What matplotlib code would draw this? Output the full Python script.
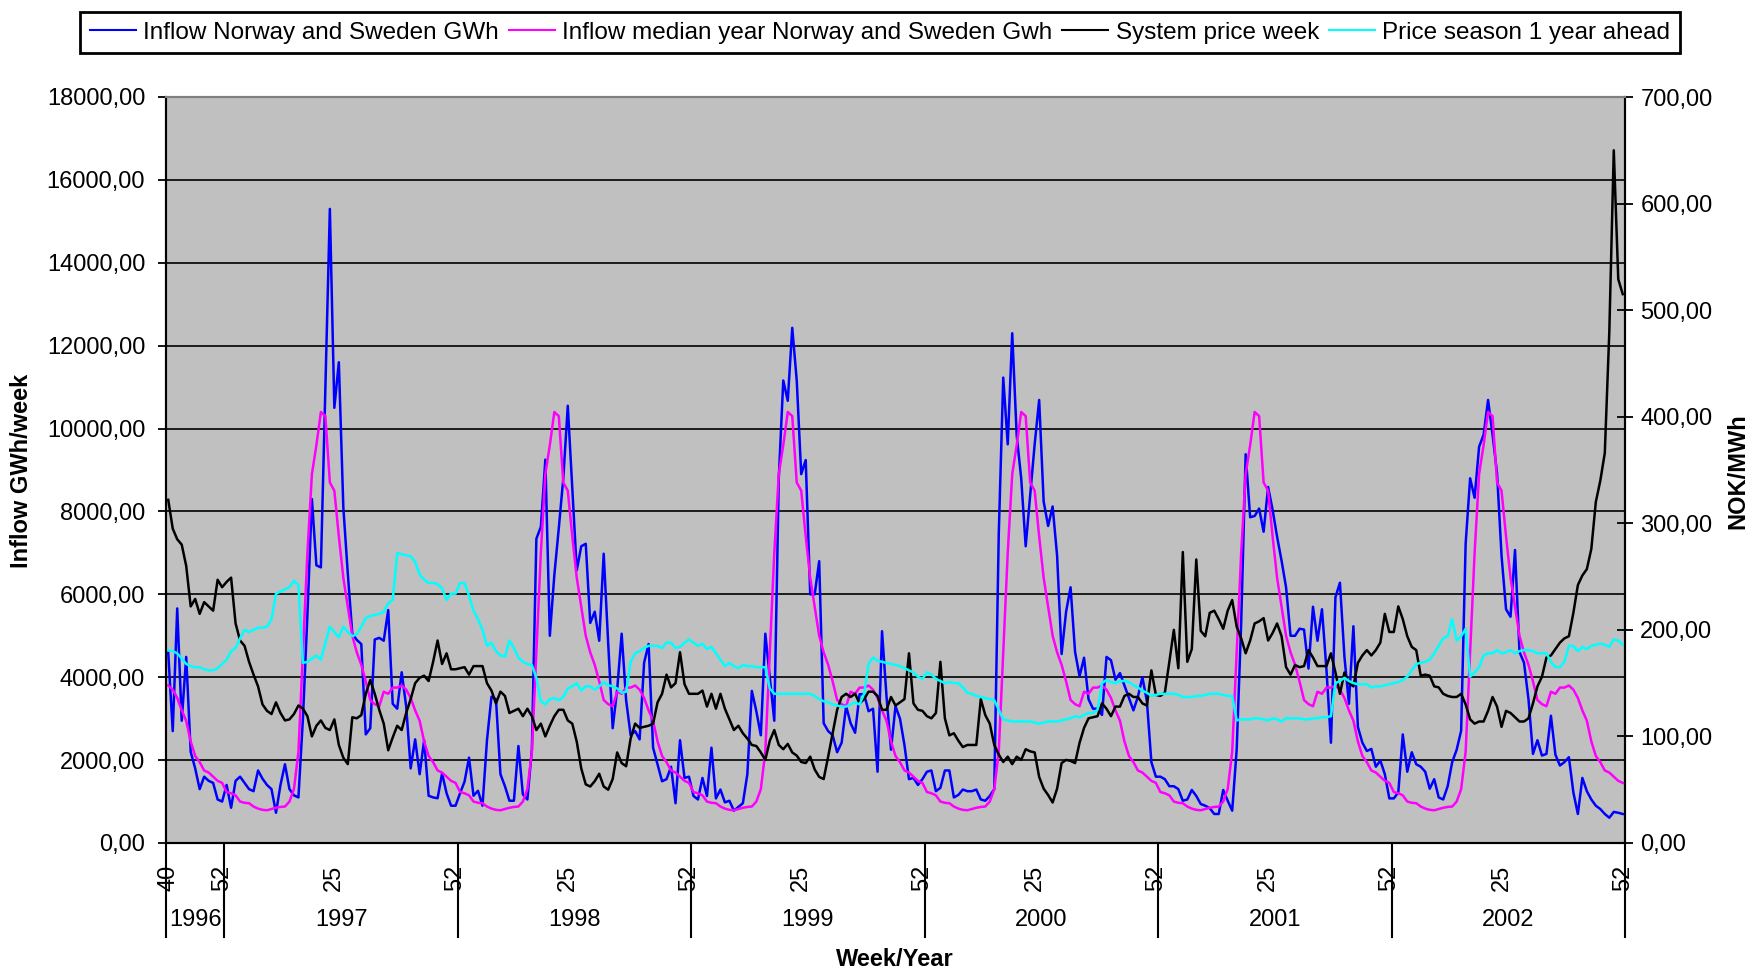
import matplotlib
matplotlib.use('agg')
import matplotlib.pyplot as plt
import matplotlib.transforms as mtransforms
from matplotlib.ticker import FuncFormatter, MultipleLocator
import numpy as np

plt.rcParams['font.family'] = ['Liberation Sans', 'DejaVu Sans']

# weeks shown: 1996 w40 .. 2002 w52
years = ['1996', '1997', '1998', '1999', '2000', '2001', '2002']
week_no = list(range(40, 53)) + list(range(1, 53)) * 6

# inflow Norway and Sweden, GWh/week
inflow = [
    4590, 2700, 5660, 2950, 4490, 2200, 1800, 1300, 1600, 1500, 1450, 1050, 1000,
    1400, 850, 1500, 1600, 1450, 1300, 1250, 1750, 1550, 1400, 1300, 730, 1400, 1900, 1300, 1150, 1100,
    3000, 5500, 8300, 6700, 6650, 11000, 15300, 10500, 11600, 8100, 6500, 5050, 4900, 4800, 2620, 2770,
    4910, 4950, 4880, 5620, 3360, 3240, 4120,
    3300, 1800, 2500, 1660, 2480, 1140, 1100, 1080, 1680, 1200, 900, 900, 1200, 1480, 2060, 1140, 1260,
    900, 2480, 3530, 3470, 1660, 1370, 1020, 1020, 2340, 1170, 1050, 2250,
    7340, 7630, 9250, 5000, 6460, 7600, 8800, 10550, 8560, 6580, 7160, 7220, 5310, 5580, 4880, 6980,
    4820, 2770, 3700, 5050, 3440, 2600,
    2700, 2500, 4350, 4800, 2300, 1900, 1490, 1540, 1840, 960, 2480, 1570, 1600, 1135, 1050, 1570, 1135,
    2300, 1076, 1290, 980, 1020, 780, 870, 960, 1660, 3670, 3180, 2600, 5050, 4000, 2950, 8800, 11160,
    10670, 12430, 11160, 8900, 9240, 6000, 6000, 6800, 2890, 2700, 2600, 2190, 2420, 3300, 2890, 2660,
    3590, 3590, 3180, 3240, 1720, 5110, 3530,
    2250, 3300, 3000, 2360, 1540, 1570, 1400, 1540, 1720, 1750, 1250, 1330, 1750, 1750, 1100, 1160,
    1290, 1250, 1250, 1290, 1050, 1020, 1135, 1300, 7450, 11230, 9620, 12300, 9830, 8800, 7160, 8400,
    9620, 10690, 8240, 7650, 8120, 6930, 4560, 5580, 6170, 4610, 4020, 4470, 3470, 3240, 3240, 3090,
    4490, 4410, 3940, 4100, 3800, 3500,
    3200, 3530, 4000, 3420, 1950, 1600, 1600, 1540, 1370, 1370, 1300, 1020, 1050, 1280, 1135, 940, 900,
    840, 700, 700, 1280, 1020, 780, 2250, 5300, 9380, 7860, 7890, 8070, 7510, 8590, 8040, 7390, 6810,
    6170, 5000, 5000, 5170, 5150, 4210, 5700, 4880, 5640, 4180, 2420, 5930, 6280, 4500, 3360, 5230,
    2800, 2420, 2220,
    2270, 1840, 1990, 1660, 1076, 1076, 1220, 2620, 1720, 2190, 1900, 1840, 1720, 1310, 1540, 1100,
    1050, 1370, 1950, 2250, 2710, 7220, 8800, 8330, 9560, 9850, 10690, 9850, 8920, 6930, 5640, 5460,
    7070, 4610, 4350, 3470, 2150, 2480, 2110, 2150, 3070, 2130, 1870, 1950, 2070, 1220, 700, 1570,
    1250, 1050, 900, 820, 700, 610, 750, 730, 700,
]

# median year inflow, by week number 1..52
median_year = [
    1230, 1200, 1150, 1000, 970, 960, 880, 830, 800, 790,
    820, 850, 870, 880, 1000, 1300, 2200, 4600, 7000, 8900,
    9600, 10400, 10300, 8700, 8500, 7400, 6400, 5700, 5000, 4600,
    4300, 3900, 3450, 3350, 3300, 3650, 3600, 3750, 3750, 3800,
    3700, 3500, 3200, 2950, 2450, 2100, 1950, 1750, 1700, 1600,
    1500, 1450,
]

# system price week, NOK/MWh
system_price = [
    322, 295, 285, 280, 260, 222, 229, 215, 226, 222, 218, 247, 240, 245, 249, 206, 190, 185, 170, 158,
    147, 130, 124, 121, 132, 122, 115, 116, 121, 129, 126, 119, 100, 110, 115, 108, 106, 116, 92, 80,
    74, 118, 117, 120, 140, 153, 140, 125, 112, 87, 99, 110, 106, 122, 135,
    150, 155, 157, 152, 170, 190, 168, 178, 163, 163, 164, 165, 158, 166, 166, 166, 150, 143, 131, 142,
    138, 122, 124, 126, 119, 126, 119, 106, 112, 100, 110, 119, 125, 125, 115, 112, 95, 70, 55, 53,
    58, 65, 53, 50, 60, 85, 75, 72, 98, 112, 108, 109, 110,
    112, 132, 140, 158, 146, 150, 179, 149, 140, 140, 140, 143, 128, 140, 126, 140, 126, 116, 106, 110,
    103, 98, 92, 91, 85, 78, 96, 106, 92, 88, 93, 85, 82, 76, 75, 81, 69, 62, 60, 81,
    103, 125, 137, 140, 137, 140, 131, 135, 142, 142, 138, 125, 125,
    137, 129, 132, 135, 178, 131, 125, 124, 119, 117, 122, 170, 117, 101, 103, 96, 90, 92, 92, 92,
    135, 120, 112, 92, 83, 76, 81, 74, 81, 78, 88, 86, 85, 62, 51, 45, 38, 51, 75, 78,
    77, 75, 94, 108, 117, 118, 119, 131, 126, 119, 128,
    128, 138, 140, 137, 137, 131, 129, 162, 139, 138, 141, 170, 200, 164, 273, 170, 182, 266, 199, 194,
    216, 218, 210, 201, 218, 228, 203, 192, 178, 190, 206, 208, 211, 190, 197, 206, 194, 165, 158, 167,
    165, 166, 181, 174, 166, 166, 166, 178, 160, 140, 160, 150, 147, 169, 176, 181,
    176, 181, 188, 215, 198, 198, 222, 210, 194, 184, 181, 157, 158, 157, 147, 146, 140, 138, 137, 137,
    140, 130, 116, 112, 114, 114, 124, 137, 128, 109, 124, 122, 118, 114, 114, 117, 131, 147, 156, 174,
    176, 182, 188, 192, 194, 216, 242, 251, 257, 276, 320, 340, 366, 479, 650, 529, 515,
]

# price season 1 year ahead, NOK/MWh
season_price = [
    181, 180, 178, 173, 168, 166, 165, 165, 163, 162, 162, 164, 168, 172, 180, 183, 192, 200, 198, 200,
    202, 202, 203, 210, 234, 236, 238, 240, 246, 242, 169, 170, 173, 176, 172, 188, 203, 198, 193, 203,
    198, 194, 196, 203, 211, 213, 214, 215, 217, 225, 228, 272, 271, 270, 269,
    264, 252, 247, 244, 244, 243, 239, 228, 234, 234, 244, 244, 232, 218, 210, 200, 185, 188, 180, 176,
    175, 190, 183, 174, 170, 168, 167, 155, 133, 130, 135, 136, 134, 137, 145, 147, 150, 143, 147, 147,
    144, 147, 151, 148, 147, 145, 141, 142, 170, 178, 180, 183, 185,
    185, 185, 183, 188, 188, 183, 184, 188, 191, 188, 185, 187, 182, 184, 178, 172, 166, 169, 166, 164,
    167, 166, 166, 165, 165, 165, 145, 140, 140, 140, 140, 140, 140, 140, 140, 140, 138, 135, 133, 132,
    130, 129, 128, 128, 130, 132, 130, 140, 168, 174, 171, 170, 169,
    168, 167, 166, 164, 162, 160, 156, 154, 160, 158, 154, 152, 150, 151, 150, 150, 146, 141, 140, 138,
    137, 136, 135, 134, 125, 116, 115, 114, 114, 114, 114, 114, 113, 112, 113, 114, 114, 114, 115, 116,
    117, 119, 118, 120, 122, 122, 125, 150, 153, 151, 150, 152, 152, 151,
    148, 146, 143, 141, 138, 139, 140, 140, 140, 140, 139, 137, 137, 137, 138, 138, 139, 140, 140, 140,
    139, 138, 138, 115, 116, 116, 116, 117, 117, 116, 115, 117, 116, 114, 117, 117, 117, 117, 116, 116,
    117, 117, 118, 118, 119, 150, 152, 155, 152, 150, 149, 149, 149,
    146, 147, 147, 148, 149, 150, 151, 153, 156, 162, 168, 169, 170, 172, 178, 185, 192, 194, 210, 190,
    194, 201, 156, 160, 165, 176, 178, 178, 181, 178, 179, 181, 178, 180, 181, 181, 180, 178, 178, 178,
    170, 165, 165, 170, 185, 185, 180, 184, 182, 185, 186, 187, 186, 184, 191, 190, 186,
]

n = len(week_no)
assert len(inflow) == n and len(system_price) == n and len(season_price) == n
median_inflow = [median_year[w - 1] for w in week_no]
x = np.arange(n)

fig = plt.figure(figsize=(17.58, 9.75), dpi=100)
ax = fig.add_axes([166 / 1758, 132 / 975, 1459 / 1758, 746 / 975])
ax.set_facecolor('#C0C0C0')
ax2 = ax.twinx()

l1, = ax.plot(x, inflow, color='#0000FF', lw=1.8)
l2, = ax.plot(x, median_inflow, color='#FF00FF', lw=1.8)
l3, = ax2.plot(x, system_price, color='black', lw=1.8)
l4, = ax2.plot(x, season_price, color='#00FFFF', lw=1.8)

ax.set_xlim(-0.5, n - 0.5)
ax.set_ylim(0, 18000)
ax2.set_ylim(0, 700)

for v in range(2000, 18000, 2000):
    ax.axhline(v, color='black', lw=1.2, zorder=0.5)

comma = FuncFormatter(lambda v, p: f"{v:.2f}".replace('.', ','))
ax.yaxis.set_major_locator(MultipleLocator(2000))
ax.yaxis.set_major_formatter(comma)
ax2.yaxis.set_major_locator(MultipleLocator(100))
ax2.yaxis.set_major_formatter(comma)
ax.tick_params(axis='y', labelsize=17, length=6, width=1.3, pad=9, color='black')
ax2.tick_params(axis='y', labelsize=17, length=12, width=1.3, pad=5, direction='inout')

# week labels on the category axis
tick_pos = [0] + [i for i, w in enumerate(week_no) if w in (25, 52) and i > 0]
ax.set_xticks(tick_pos)
ax.set_xticklabels([str(week_no[i]) for i in tick_pos], rotation=90, fontsize=17)
ax.tick_params(axis='x', length=0, pad=16)

# year separators and year labels
trans = mtransforms.blended_transform_factory(ax.transData, ax.transAxes)
seps = [-0.5] + [i - 0.5 for i, w in enumerate(week_no) if w == 1] + [n - 0.5]
for s in seps:
    ax.plot([s, s], [0, -0.126], color='black', lw=1.5, transform=trans, clip_on=False)
for k, yr in enumerate(years):
    ax.text((seps[k] + seps[k + 1]) / 2, -0.103, yr, transform=trans,
            ha='center', va='center', fontsize=17)

for a in (ax, ax2):
    a.spines['top'].set_color('#808080')
    a.spines['top'].set_linewidth(1.5)
    for side in ('left', 'right', 'bottom'):
        a.spines[side].set_color('black')
        a.spines[side].set_linewidth(1.5)

fig.text(895 / 1758, 1 - 960 / 975, 'Week/Year', ha='center', va='center',
         fontsize=17, fontweight='bold')
fig.text(22 / 1758, 1 - 471 / 975, 'Inflow GWh/week', ha='center', va='center',
         rotation=90, fontsize=17, fontweight='bold')
fig.text(1738 / 1758, 1 - 471 / 975, 'NOK/MWh', ha='center', va='center',
         rotation=90, fontsize=17, fontweight='bold')

leg = fig.legend([l1, l2, l3, l4],
                 ['Inflow Norway and Sweden GWh', 'Inflow median year Norway and Sweden Gwh',
                  'System price week', 'Price season 1 year ahead'],
                 loc='upper center', bbox_to_anchor=(0.5006, 1 - 12 / 975), ncol=4,
                 fontsize=17.5, frameon=True, fancybox=False, framealpha=1,
                 edgecolor='black', handlelength=1.9, handletextpad=0.3,
                 columnspacing=0.4, borderpad=0.4, borderaxespad=0)
leg.get_frame().set_linewidth(2)
for h in leg.get_lines():
    h.set_linewidth(1.5)

fig.savefig('out.png', dpi=100)
